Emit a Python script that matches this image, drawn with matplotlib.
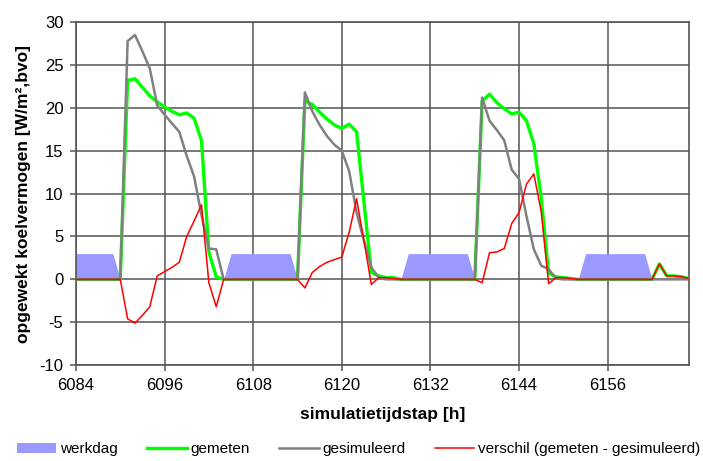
import numpy as np
import matplotlib
matplotlib.use('Agg')
import matplotlib.pyplot as plt

plt.rcParams['font.family'] = ['Liberation Sans', 'DejaVu Sans']
plt.rcParams['axes.unicode_minus'] = False

# simulation hours 6084 .. 6167 (one value per hour)
hours = np.arange(6084, 6168)

# werkdag indicator (drawn as area, value 3 during working hours)
werkdag = [3, 3, 3, 3, 3, 3,
           0, 0, 0, 0, 0, 0, 0, 0, 0, 0, 0, 0, 0, 0, 0,
           3, 3, 3, 3, 3, 3, 3, 3, 3,
           0, 0, 0, 0, 0, 0, 0, 0, 0, 0, 0, 0, 0, 0, 0,
           3, 3, 3, 3, 3, 3, 3, 3, 3,
           0, 0, 0, 0, 0, 0, 0, 0, 0, 0, 0, 0, 0, 0, 0,
           3, 3, 3, 3, 3, 3, 3, 3, 3,
           0, 0, 0, 0, 0, 0]

# measured cooling power
gemeten = [0, 0, 0, 0, 0, 0,
           0, 23.2, 23.4, 22.4, 21.4, 20.7, 20.1, 19.6, 19.2, 19.4, 18.8, 16.2, 3.2, 0.3, 0,
           0, 0, 0, 0, 0, 0, 0, 0, 0,
           0, 20.8, 20.4, 19.5, 18.7, 18.0, 17.6, 18.1, 17.2, 9.0, 0.8, 0.4, 0.2, 0.2, 0,
           0, 0, 0, 0, 0, 0, 0, 0, 0,
           0, 20.8, 21.6, 20.6, 19.9, 19.3, 19.5, 18.5, 15.8, 9.5, 0.7, 0.3, 0.2, 0.1, 0,
           0, 0, 0, 0, 0, 0, 0, 0, 0,
           0, 1.8, 0.4, 0.4, 0.3, 0.1]

# simulated cooling power
gesimuleerd = [0, 0, 0, 0, 0, 0,
               0, 27.8, 28.5, 26.6, 24.6, 20.3, 19.2, 18.2, 17.2, 14.4, 12.0, 7.5, 3.6, 3.5, 0,
               0, 0, 0, 0, 0, 0, 0, 0, 0,
               0, 21.8, 19.6, 18.0, 16.7, 15.7, 15.0, 12.6, 7.8, 4.5, 1.4, 0.2, 0, 0, 0,
               0, 0, 0, 0, 0, 0, 0, 0, 0,
               0, 21.2, 18.5, 17.4, 16.2, 12.8, 11.7, 7.4, 3.5, 1.6, 1.2, 0.1, 0, 0, 0,
               0, 0, 0, 0, 0, 0, 0, 0, 0,
               0, 0, 0, 0, 0, 0]

# difference (gemeten - gesimuleerd)
verschil = [0, 0, 0, 0, 0, 0,
            0, -4.6, -5.1, -4.2, -3.2, 0.4, 0.9, 1.4, 2.0, 5.0, 6.8, 8.7, -0.4, -3.2, 0,
            0, 0, 0, 0, 0, 0, 0, 0, 0,
            0, -1.0, 0.8, 1.5, 2.0, 2.3, 2.6, 5.5, 9.4, 4.5, -0.6, 0.2, 0.2, 0.1, 0,
            0, 0, 0, 0, 0, 0, 0, 0, 0,
            0, -0.4, 3.1, 3.2, 3.6, 6.5, 7.8, 11.1, 12.3, 7.9, -0.5, 0.2, 0.2, 0.1, 0,
            0, 0, 0, 0, 0, 0, 0, 0, 0,
            0, 1.8, 0.4, 0.4, 0.3, 0.1]

xticks = [6084, 6096, 6108, 6120, 6132, 6144, 6156]
yticks = [-10, -5, 0, 5, 10, 15, 20, 25, 30]

fig = plt.figure(figsize=(7.03, 4.61), dpi=100)
ax = fig.add_axes([0.108, 0.208, 0.872, 0.744])

# series in excel order: area first, then the lines on top
ax.fill_between(hours, werkdag, 0, color='#9999ff', lw=0, label='werkdag')
ax.plot(hours, gemeten, color='#00ff00', lw=2.4, label='gemeten', zorder=3)
ax.plot(hours, gesimuleerd, color='#808080', lw=1.8, label='gesimuleerd', zorder=4)
ax.plot(hours, verschil, color='#ff0000', lw=1.1, label='verschil (gemeten - gesimuleerd)', zorder=5)

ax.set_xlim(6084, 6167)
ax.set_ylim(-10, 30)
ax.set_xticks(xticks)
ax.set_yticks(yticks)
ax.grid(True, color='#555555', lw=1.1)
ax.set_axisbelow(True)
for s in ax.spines.values():
    s.set_color('#555555')
    s.set_linewidth(1.2)
ax.tick_params(direction='out', length=4, width=1.1, color='#555555', labelsize=12, pad=5)

ax.set_xlabel('simulatietijdstap [h]', fontsize=12.5, fontweight='bold', labelpad=10)
ax.set_ylabel('opgewekt koelvermogen [W/m²,bvo]', fontsize=12.5, fontweight='bold', labelpad=6)

fig.legend(loc='lower center', bbox_to_anchor=(0.51, -0.02), ncol=4, frameon=False,
           fontsize=11, handlelength=2.6, handleheight=0.6, columnspacing=1.9, handletextpad=0.25)

fig.savefig('out.png', dpi=100)
